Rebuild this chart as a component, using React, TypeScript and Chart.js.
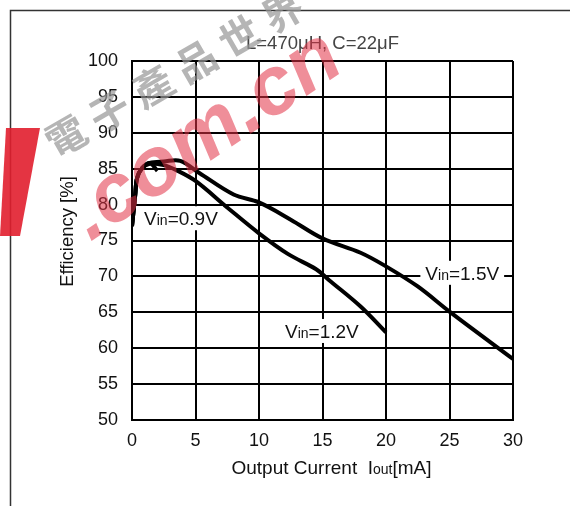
import React, { useEffect, useRef } from "react";
import { Chart, registerables } from "chart.js";

Chart.register(...registerables);

// ---- data ----
const curX09 = [0, 0.25, 0.4, 0.8, 1.4, 2.0];
const effY09 = [77, 81.3, 83.7, 85.1, 85.8, 84.7];

const curX12 = [0, 0.25, 0.4, 0.8, 1.4, 2.5, 3.5, 5.0, 7.5, 10.0, 12.3, 14.5, 15.5, 18.0, 20.0];
const effY12 = [77, 81.3, 83.7, 85.1, 85.7, 85.5, 84.8, 83.3, 79.6, 76.0, 73.1, 71.0, 69.5, 65.8, 62.2];

const curX15 = [0, 0.25, 0.4, 0.8, 1.4, 2.5, 3.8, 5.3, 8.0, 10.0, 12.5, 15.0, 18.0, 20.0, 22.5, 25.0, 30.0];
const effY15 = [77, 81.3, 83.7, 85.1, 85.8, 86.0, 86.1, 84.4, 81.4, 80.3, 77.9, 75.3, 73.3, 71.4, 68.6, 65.1, 58.5];

const xMin = 0;
const xMax = 30;
const xStep = 5;
const yMin = 50;
const yMax = 100;
const yStep = 5;

const seriesNames = ["Vin=0.9V", "Vin=1.2V", "Vin=1.5V"];
const labelValues = ["0.9V", "1.5V", "1.2V"];
const labelX = [0.95, 23.1, 12.05];
const labelY = [78.1, 70.5, 62.4];

const chartTitle = "L=470\u03bcH, C=22\u03bcF";
const xTitleMain = "Output Current  I";
const xTitleSub = "out";
const xTitleTail = "[mA]";
const yTitle = "Efficiency [%]";
const watermarkCJK = ["\u96fb", "\u5b50", "\u7522", "\u54c1", "\u4e16", "\u754c"];
const watermarkLatin = ".com.cn";

const FONT = "'Liberation Sans', Arial, Helvetica, sans-serif";

function toPoints(xs: number[], ys: number[]) {
  return xs.map((x, i) => ({ x, y: ys[i] }));
}

const overlayPlugin = {
  id: "overlay",
  afterDatasetsDraw(chart: any) {
    const ctx = chart.ctx as CanvasRenderingContext2D;
    const xs = chart.scales.x;
    const ys = chart.scales.y;
    ctx.save();
    labelValues.forEach((val, i) => {
      const px = xs.getPixelForValue(labelX[i]);
      const py = ys.getPixelForValue(labelY[i]);
      ctx.font = `19px ${FONT}`;
      const wV = ctx.measureText("V").width;
      const wTail = ctx.measureText("=" + val).width;
      ctx.font = `14px ${FONT}`;
      const wIn = ctx.measureText("in").width;
      const total = wV + wIn + wTail;
      ctx.fillStyle = "#fff";
      ctx.fillRect(px - 5, py - 12, total + 10, 24);
      ctx.fillStyle = "#111";
      ctx.textBaseline = "alphabetic";
      ctx.textAlign = "left";
      const base = py + 7;
      ctx.font = `19px ${FONT}`;
      ctx.fillText("V", px, base);
      ctx.font = `14px ${FONT}`;
      ctx.fillText("in", px + wV, base);
      ctx.font = `19px ${FONT}`;
      ctx.fillText("=" + val, px + wV + wIn, base);
    });
    ctx.restore();
  },
  afterDraw(chart: any) {
    const ctx = chart.ctx as CanvasRenderingContext2D;
    const area = chart.chartArea;
    ctx.save();
    // frame lines
    ctx.strokeStyle = "#333";
    ctx.lineWidth = 1.5;
    ctx.beginPath();
    ctx.moveTo(10.5, 506);
    ctx.lineTo(10.5, 10.5);
    ctx.lineTo(570, 10.5);
    ctx.stroke();

    // chart title
    const cx = (area.left + area.right) / 2;
    ctx.fillStyle = "#444";
    ctx.font = `18.5px ${FONT}`;
    ctx.textAlign = "center";
    ctx.textBaseline = "middle";
    ctx.fillText(chartTitle, cx, area.top - 17);

    // x title
    ctx.fillStyle = "#111";
    ctx.font = `19px ${FONT}`;
    const w1 = ctx.measureText(xTitleMain).width;
    const w3 = ctx.measureText(xTitleTail).width;
    ctx.font = `14px ${FONT}`;
    const w2 = ctx.measureText(xTitleSub).width;
    const tot = w1 + w2 + w3;
    const sx = cx + 9 - tot / 2;
    const by = area.bottom + 54;
    ctx.textAlign = "left";
    ctx.textBaseline = "alphabetic";
    ctx.font = `19px ${FONT}`;
    ctx.fillText(xTitleMain, sx, by);
    ctx.font = `14px ${FONT}`;
    ctx.fillText(xTitleSub, sx + w1, by);
    ctx.font = `19px ${FONT}`;
    ctx.fillText(xTitleTail, sx + w1 + w2, by);

    // y title
    ctx.save();
    ctx.translate(68, (area.top + area.bottom) / 2 - 9);
    ctx.rotate(-Math.PI / 2);
    ctx.textAlign = "center";
    ctx.textBaseline = "middle";
    ctx.font = `18.5px ${FONT}`;
    ctx.fillText(yTitle, 0, 0);
    ctx.restore();

    // watermark: red bar
    ctx.fillStyle = "rgba(225,30,45,0.9)";
    ctx.beginPath();
    ctx.moveTo(6, 128);
    ctx.lineTo(40, 128);
    ctx.lineTo(20, 236);
    ctx.lineTo(0, 236);
    ctx.closePath();
    ctx.fill();

    // watermark: gray characters
    const ang = (-30 * Math.PI) / 180;
    ctx.fillStyle = "rgba(150,150,150,0.7)";
    ctx.font = `bold 40px 'Noto Sans CJK TC', sans-serif`;
    ctx.textAlign = "center";
    ctx.textBaseline = "middle";
    watermarkCJK.forEach((ch, i) => {
      ctx.save();
      ctx.translate(66 + i * 50 * Math.cos(ang), 136 + i * 50 * Math.sin(ang));
      ctx.rotate(ang);
      ctx.fillText(ch, 0, 0);
      ctx.restore();
    });

    // watermark: red latin
    ctx.save();
    ctx.translate(90, 242);
    ctx.rotate((-34 * Math.PI) / 180);
    ctx.fillStyle = "rgba(225,50,70,0.55)";
    ctx.font = `italic bold 82px ${FONT}`;
    ctx.textAlign = "left";
    ctx.textBaseline = "alphabetic";
    ctx.fillText(watermarkLatin, 0, 0);
    ctx.restore();

    ctx.restore();
  },
};

export default function App() {
  const ref = useRef<HTMLCanvasElement | null>(null);
  useEffect(() => {
    if (!ref.current) return;
    const lineStyle = {
      borderColor: "#000",
      borderWidth: 4,
      pointRadius: 0,
      fill: false,
      tension: 0.35,
      borderCapStyle: "butt" as const,
      borderJoinStyle: "round" as const,
    };
    const chart = new Chart(ref.current, {
      type: "line",
      data: {
        datasets: [
          { label: seriesNames[0], data: toPoints(curX09, effY09), ...lineStyle },
          { label: seriesNames[1], data: toPoints(curX12, effY12), ...lineStyle },
          { label: seriesNames[2], data: toPoints(curX15, effY15), ...lineStyle },
        ],
      },
      options: {
        responsive: false,
        animation: false,
        events: [],
        layout: { padding: { left: 0, right: 57, top: 61, bottom: 0 } },
        plugins: {
          legend: { display: false },
          tooltip: { enabled: false },
          title: { display: false },
        },
        scales: {
          x: {
            type: "linear",
            min: xMin,
            max: xMax,
            afterFit(scale: any) {
              scale.height = 86;
            },
            ticks: {
              stepSize: xStep,
              color: "#111",
              font: { family: FONT, size: 18 },
              padding: 10,
              maxRotation: 0,
            },
            grid: { color: "#000", lineWidth: 2, drawTicks: false },
            border: { display: true, color: "#000", width: 2 },
          },
          y: {
            type: "linear",
            min: yMin,
            max: yMax,
            afterFit(scale: any) {
              scale.width = 132;
            },
            ticks: {
              stepSize: yStep,
              color: "#111",
              font: { family: FONT, size: 18 },
              padding: 14,
            },
            grid: { color: "#000", lineWidth: 2, drawTicks: false },
            border: { display: true, color: "#000", width: 2 },
          },
        },
      },
      plugins: [overlayPlugin],
    });
    return () => chart.destroy();
  }, []);
  return (
    <div style={{ position: "absolute", left: 0, top: 0, width: 570, height: 506, background: "#fff" }}>
      <canvas ref={ref} width={570} height={506} style={{ display: "block" }} />
    </div>
  );
}
